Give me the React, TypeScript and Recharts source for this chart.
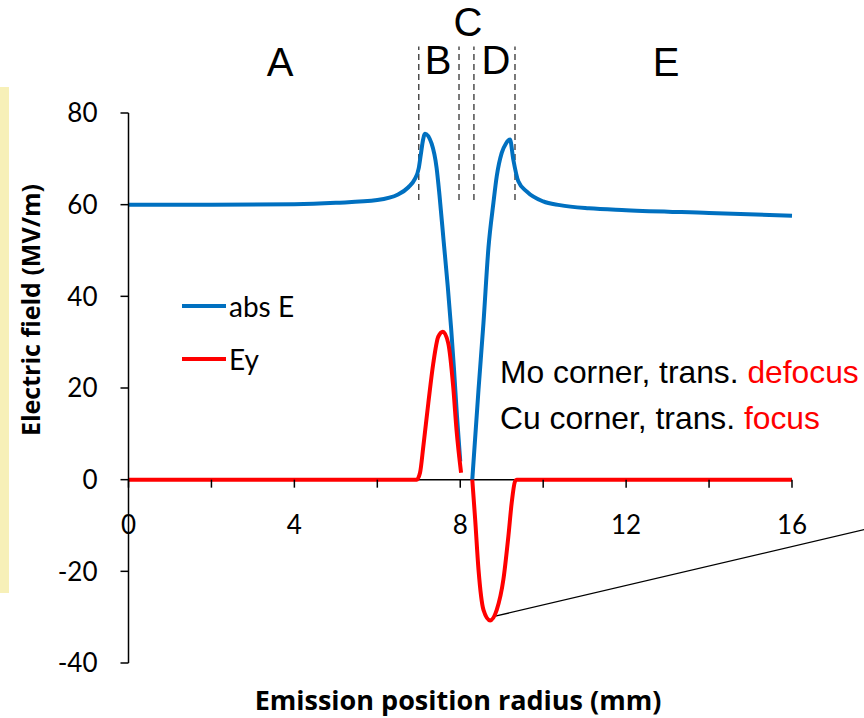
import React from "react";
import {
  Line,
  LineChart,
  ReferenceLine,
  XAxis,
  YAxis,
} from "recharts";

// abs E along the emission radius (mm -> MV/m); null breaks the line at the corner
const absEX = [0, 2, 4, 5, 6, 6.5, 6.75, 6.9, 7.0, 7.05, 7.1, 7.15, 7.31, 7.43, 7.5, 7.6, 7.7, 7.78, 7.85, 7.92, 8.0, 8.15, 8.29, 8.44, 8.56, 8.68, 8.8, 8.88, 9.0, 9.1, 9.2, 9.28, 9.4, 9.6, 10.0, 10.4, 11.1, 12, 14, 16];
const absEV = [60, 60, 60.1, 60.4, 61, 62.2, 63.8, 65.5, 68, 71, 74, 75.5, 73.3, 68, 62, 52, 42, 33, 24, 14, 4, null, 0, 19.6, 34.2, 50.6, 60.4, 66.2, 71.3, 73.3, 74.2, 69.8, 65.1, 62.9, 60.7, 59.9, 59.2, 58.8, 58.2, 57.6];

// Ey component
const eyX = [0, 4, 6.95, 7.03, 7.11, 7.23, 7.35, 7.47, 7.58, 7.71, 7.83, 7.91, 8.02, 8.15, 8.29, 8.36, 8.44, 8.56, 8.72, 8.88, 9.04, 9.16, 9.24, 9.32, 9.36, 12, 16];
const eyV = [0, 0, 0, 1.5, 7.3, 16.7, 25.4, 31.2, 32.3, 29.8, 20.3, 10.9, 1.5, null, 0, -8.7, -19.6, -28.4, -30.7, -28.4, -21.8, -12.4, -5.1, -0.4, 0, 0, 0];

const xTicks = [0, 2, 4, 6, 8, 10, 12, 14, 16];
const yTicks = [-40, -20, 0, 20, 40, 60, 80];

// region boundaries (mm) and labels
const regionEdges = [7.0, 7.97, 8.33, 9.32];
const regionLabels = [
  { text: "A", cx: 280, cy: 62 },
  { text: "B", cx: 438, cy: 60 },
  { text: "C", cx: 468, cy: 22 },
  { text: "D", cx: 496, cy: 60 },
  { text: "E", cx: 666, cy: 62 },
];

const absEData = absEX.map((x, i) => ({ x, v: absEV[i] }));
const eyData = eyX.map((x, i) => ({ x, v: eyV[i] }));

const W = 864;
const H = 718;
const PLOT_LEFT = 128.5;
const PLOT_RIGHT = 792;
const PLOT_TOP = 113;
const PLOT_BOTTOM = 663;
const Y_MIN = -40;
const Y_MAX = 80;
const Y_ZERO = PLOT_TOP + ((PLOT_BOTTOM - PLOT_TOP) * Y_MAX) / (Y_MAX - Y_MIN);

const BLUE = "#0070c0";
const RED = "#ff0000";
const TICK_FONT = "Lato, 'Open Sans', sans-serif";
const TITLE_FONT = "'Open Sans', Lato, sans-serif";
const TEXT_FONT = "'Liberation Sans', Arial, sans-serif";

const legendRows = [
  { name: "abs E", color: BLUE },
  { name: "Ey", color: RED },
];

// x ticks hang under the y = 0 line, labels every 4 mm
function XTick(props: any) {
  const { x, payload } = props;
  return (
    <g>
      <line x1={x} x2={x} y1={Y_ZERO} y2={Y_ZERO + 8} stroke="#000" strokeWidth={1.5} />
      {payload.value % 4 === 0 && (
        <text x={x} y={Y_ZERO + 54} textAnchor="middle" fontSize={26} fontFamily={TICK_FONT} fill="#000">
          {payload.value}
        </text>
      )}
    </g>
  );
}

export default function App() {
  return (
    <div style={{ position: "absolute", left: 0, top: 0, width: W, height: H, background: "#fff", overflow: "hidden" }}>
      <div style={{ position: "absolute", left: 0, top: 87, width: 9, height: 506, background: "#f7f0b8" }} />

      <LineChart
        width={W}
        height={H}
        margin={{ top: PLOT_TOP, right: W - PLOT_RIGHT, bottom: H - PLOT_BOTTOM - 30, left: PLOT_LEFT - 60 }}
        style={{ position: "absolute", left: 0, top: 0 }}
      >
        <XAxis
          dataKey="x"
          type="number"
          domain={[0, 16]}
          ticks={xTicks}
          allowDuplicatedCategory={false}
          axisLine={false}
          tickLine={false}
          tick={<XTick />}
          height={30}
          interval={0}
        />
        <YAxis
          type="number"
          domain={[Y_MIN, Y_MAX]}
          ticks={yTicks}
          width={60}
          interval={0}
          axisLine={{ stroke: "#000", strokeWidth: 1.5 }}
          tickLine={{ stroke: "#000", strokeWidth: 1.5 }}
          tickSize={8}
          tickMargin={23}
          tick={{ fill: "#000", fontSize: 26, fontFamily: TICK_FONT }}
        />
        <ReferenceLine y={0} stroke="#000" strokeWidth={1.5} />
        {regionEdges.map((x) => (
          <ReferenceLine
            key={x}
            segment={[{ x, y: 61 }, { x, y: 94.5 }]}
            stroke="#333"
            strokeWidth={1.3}
            strokeDasharray="6 4"
            ifOverflow="visible"
          />
        ))}
        <ReferenceLine
          segment={[{ x: 8.79, y: -29.9 }, { x: 17.74, y: -10.9 }]}
          stroke="#000"
          strokeWidth={1.3}
          ifOverflow="visible"
        />
        <Line
          data={absEData}
          dataKey="v"
          name="abs E"
          type="monotone"
          stroke={BLUE}
          strokeWidth={4}
          dot={false}
          isAnimationActive={false}
        />
        <Line
          data={eyData}
          dataKey="v"
          name="Ey"
          type="monotone"
          stroke={RED}
          strokeWidth={4}
          dot={false}
          isAnimationActive={false}
        />
      </LineChart>

      {/* legend */}
      <div style={{ position: "absolute", left: 182, top: 279, fontFamily: TICK_FONT, fontSize: 28 }}>
        {legendRows.map((r) => (
          <div key={r.name} style={{ display: "flex", alignItems: "center", height: 53 }}>
            <div style={{ width: 44, height: 4, background: r.color, marginRight: 3 }} />
            <span>{r.name}</span>
          </div>
        ))}
      </div>

      {regionLabels.map((l) => (
        <div
          key={l.text}
          style={{
            position: "absolute",
            left: l.cx - 30,
            top: l.cy - 20,
            width: 60,
            lineHeight: "40px",
            textAlign: "center",
            fontFamily: TEXT_FONT,
            fontSize: 40,
          }}
        >
          {l.text}
        </div>
      ))}

      <div style={{ position: "absolute", left: 500, top: 354, fontFamily: TEXT_FONT, fontSize: 31.8, lineHeight: "36px", whiteSpace: "nowrap" }}>
        Mo corner, trans. <span style={{ color: RED }}>defocus</span>
      </div>
      <div style={{ position: "absolute", left: 500, top: 400, fontFamily: TEXT_FONT, fontSize: 31.8, lineHeight: "36px", whiteSpace: "nowrap" }}>
        Cu corner, trans. <span style={{ color: RED }}>focus</span>
      </div>

      <div
        style={{
          position: "absolute",
          left: 30 - 200,
          top: 310 - 16,
          width: 400,
          lineHeight: "32px",
          textAlign: "center",
          transform: "rotate(-90deg)",
          fontFamily: TITLE_FONT,
          fontWeight: 700,
          fontSize: 25,
        }}
      >
        Electric field (MV/m)
      </div>
      <div
        style={{
          position: "absolute",
          left: 458 - 300,
          top: 700 - 16,
          width: 600,
          lineHeight: "32px",
          textAlign: "center",
          fontFamily: TITLE_FONT,
          fontWeight: 700,
          fontSize: 27,
        }}
      >
        Emission position radius (mm)
      </div>
    </div>
  );
}
